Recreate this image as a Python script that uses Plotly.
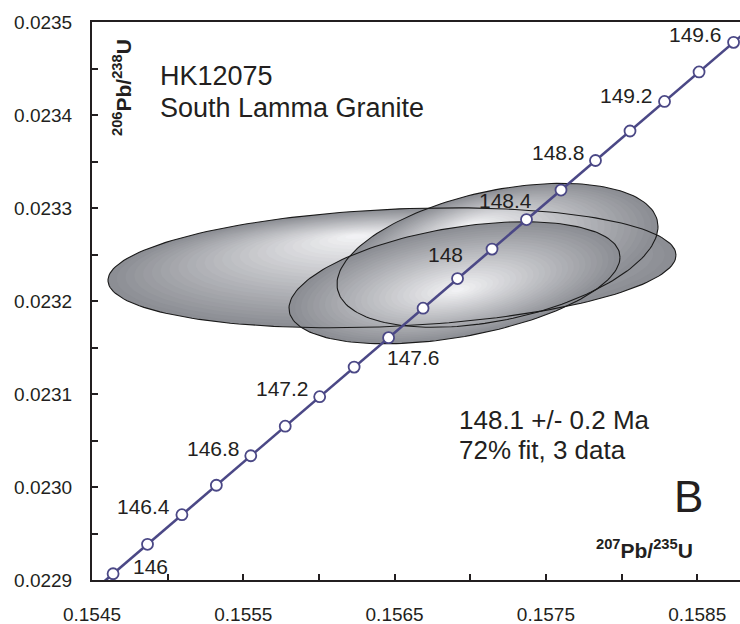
import numpy as np
import plotly.graph_objects as go

# ---------------- data ----------------
ages = [146.0, 146.2, 146.4, 146.6, 146.8, 147.0, 147.2, 147.4, 147.6, 147.8,
        148.0, 148.2, 148.4, 148.6, 148.8, 149.0, 149.2, 149.4, 149.6]
conc_x = [0.1546394, 0.1548669, 0.1550943, 0.1553219, 0.1555495, 0.1557771,
          0.1560048, 0.1562325, 0.1564603, 0.1566881, 0.1569159, 0.1571439,
          0.1573718, 0.1575998, 0.1578278, 0.1580559, 0.1582840, 0.1585122,
          0.1587404]
conc_y = [0.0229067, 0.0229384, 0.0229702, 0.0230019, 0.0230336, 0.0230654,
          0.0230971, 0.0231289, 0.0231606, 0.0231923, 0.0232241, 0.0232558,
          0.0232876, 0.0233193, 0.0233511, 0.0233828, 0.0234146, 0.0234463,
          0.0234781]
# concordia curve continues beyond the marked ages (145.8 and 149.8 Ma)
curve_x = [0.1544120] + conc_x + [0.1589687]
curve_y = [0.0228750] + conc_y + [0.0235099]

label_ages = ["146", "146.4", "146.8", "147.2", "147.6", "148", "148.4", "148.8", "149.2", "149.6"]

# error ellipses (centre, half-extents, correlation)
ell_cx = [0.1564828, 0.1568959, 0.1571801]
ell_cy = [0.0232357, 0.0232196, 0.0232491]
ell_hx = [0.0018771, 0.0010939, 0.0010608]
ell_hy = [0.0000645, 0.0000656, 0.0000774]
ell_rho = [0.21, 0.42, 0.40]

x_ticks = [0.1545, 0.1555, 0.1565, 0.1575, 0.1585]
y_ticks = [0.0229, 0.0230, 0.0231, 0.0232, 0.0233, 0.0234, 0.0235]

# ---------------- style ----------------
FONT = "Liberation Sans, Arial, sans-serif"
TXT = "#231f20"
LINE_COL = "#4b4886"
label_shift = {"146": (37, 7), "146.4": (-38, 8), "146.8": (-37, 7), "147.2": (-37, 8),
               "147.6": (25, -20), "148": (-12, 24), "148.4": (-21, 19), "148.8": (-37, 8),
               "149.2": (-38, 6), "149.6": (-38, 8)}
highlight = [(-0.13, 0.54), (0.02, -0.12), (-0.17, 0.42)]  # relative to half-extents
draw_order = [0, 2, 1]
edge_rgb = np.array([140, 142, 148])
light_rgb = np.array([246, 246, 248])


def ellipse(cx, cy, hx, hy, rho, n=180):
    t = np.linspace(0, 2 * np.pi, n)
    x = cx + hx * np.cos(t)
    y = cy + hy * (rho * np.cos(t) + np.sqrt(1 - rho ** 2) * np.sin(t))
    return x, y


fig = go.Figure()

# gradient fills
for i in draw_order:
    cx, cy, hx, hy, r = ell_cx[i], ell_cy[i], ell_hx[i], ell_hy[i], ell_rho[i]
    hxp, hyp = cx + highlight[i][0] * hx, cy + highlight[i][1] * hy
    levels = np.linspace(1.0, 0.04, 28)
    for s in levels:
        ccx = hxp + s * (cx - hxp)
        ccy = hyp + s * (cy - hyp)
        ex, ey = ellipse(ccx, ccy, hx * s, hy * s, r)
        f = (1 - s) ** 1.0
        col = edge_rgb + (light_rgb - edge_rgb) * f
        c = "rgb(%d,%d,%d)" % tuple(col.astype(int))
        fig.add_trace(go.Scatter(x=ex, y=ey, mode="lines", fill="toself",
                                 fillcolor=c, line=dict(width=0, color=c),
                                 hoverinfo="skip", showlegend=False))

# outlines on top
for i in range(3):
    ex, ey = ellipse(ell_cx[i], ell_cy[i], ell_hx[i], ell_hy[i], ell_rho[i])
    fig.add_trace(go.Scatter(x=ex, y=ey, mode="lines",
                             line=dict(color="#1a1a1a", width=1.1),
                             hoverinfo="skip", showlegend=False))

# concordia
fig.add_trace(go.Scatter(x=curve_x, y=curve_y, mode="lines",
                         line=dict(color=LINE_COL, width=2.6),
                         hoverinfo="skip", showlegend=False))
fig.add_trace(go.Scatter(x=conc_x, y=conc_y, mode="markers",
                         marker=dict(size=11, color="white",
                                     line=dict(color=LINE_COL, width=1.8)),
                         hoverinfo="skip", showlegend=False, cliponaxis=False))

annotations = []
age_str = ["%g" % a for a in ages]
for lab in label_ages:
    k = age_str.index(lab)
    dx, dy = label_shift[lab]
    annotations.append(dict(x=conc_x[k], y=conc_y[k], xref="x", yref="y",
                            text=lab, showarrow=False, xshift=dx, yshift=dy,
                            font=dict(family=FONT, size=21, color=TXT)))


def px(xp):
    return (xp - 92) / 648


def py(yp):
    return (580 - yp) / 558


annotations += [
    dict(x=px(158), y=py(76), xref="paper", yref="paper", text="HK12075",
         showarrow=False, xanchor="left", yanchor="middle",
         font=dict(family=FONT, size=27, color=TXT)),
    dict(x=px(158), y=py(108), xref="paper", yref="paper", text="South Lamma Granite",
         showarrow=False, xanchor="left", yanchor="middle",
         font=dict(family=FONT, size=27, color=TXT)),
    dict(x=px(457), y=py(420), xref="paper", yref="paper", text="148.1 +/- 0.2 Ma",
         showarrow=False, xanchor="left", yanchor="middle",
         font=dict(family=FONT, size=26, color=TXT)),
    dict(x=px(457), y=py(450), xref="paper", yref="paper", text="72% fit, 3 data",
         showarrow=False, xanchor="left", yanchor="middle",
         font=dict(family=FONT, size=26, color=TXT)),
    dict(x=px(688), y=py(496), xref="paper", yref="paper", text="B",
         showarrow=False, xanchor="center", yanchor="middle",
         font=dict(family=FONT, size=44, color=TXT)),
    dict(x=px(644), y=py(549), xref="paper", yref="paper",
         text="<b><sup>207</sup>Pb/<sup>235</sup>U</b>",
         showarrow=False, xanchor="center", yanchor="middle",
         font=dict(family=FONT, size=21, color=TXT)),
    dict(x=px(122), y=py(88), xref="paper", yref="paper",
         text="<b><sup>206</sup>Pb/<sup>238</sup>U</b>", textangle=-90,
         showarrow=False, xanchor="center", yanchor="middle",
         font=dict(family=FONT, size=21, color=TXT)),
]

axis_common = dict(showgrid=False, zeroline=False, showline=True, linecolor="#231f20",
                   linewidth=2, ticks="inside", ticklen=6, tickwidth=1.5,
                   tickcolor="#231f20", tickformat=".4f",
                   tickfont=dict(family=FONT, size=19, color=TXT))

fig.update_layout(
    width=740, height=624,
    margin=dict(l=92, r=0, t=22, b=44),
    paper_bgcolor="white", plot_bgcolor="white",
    showlegend=False, hovermode=False,
    annotations=annotations,
    xaxis=dict(range=[0.1545, 0.1545 + 648 / 151300], tickvals=x_ticks,
               mirror=True, ticklabelstandoff=16,
               minor=dict(dtick=0.0005, tick0=0.1545, ticks="inside", ticklen=6,
                          tickwidth=1.5, tickcolor="#231f20"),
               **axis_common),
    yaxis=dict(range=[0.0229, 0.0235], tickvals=y_ticks, ticklabelstandoff=14,
               minor=dict(dtick=0.00005, tick0=0.0229, ticks="inside", ticklen=6,
                          tickwidth=1.5, tickcolor="#231f20"),
               **axis_common),
)

fig.write_html("out.html", config={"displayModeBar": False})
